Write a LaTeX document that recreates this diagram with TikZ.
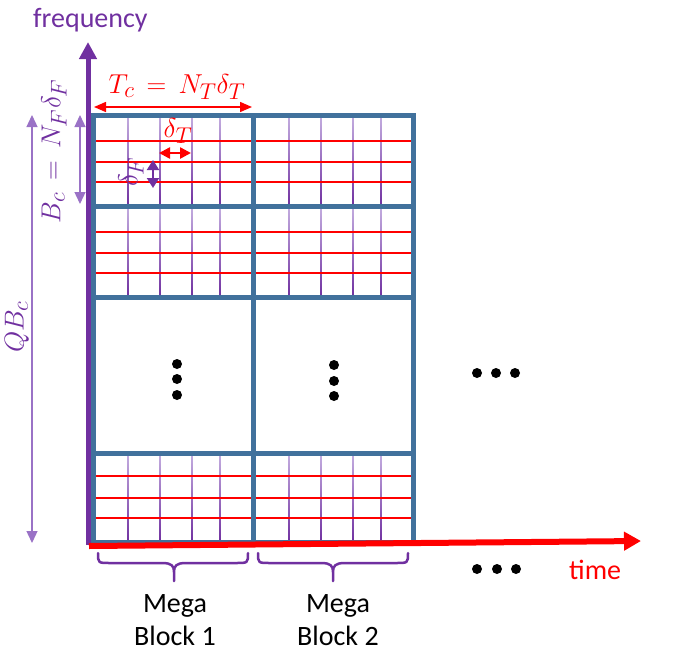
\documentclass[tikz,border=0pt]{standalone}
\usepackage{graphicx}
\usepackage[no-math]{fontspec}
\setmainfont{Carlito}
\usetikzlibrary{arrows.meta}
\definecolor{pp}{HTML}{7030A0}
\definecolor{lp}{HTML}{C4AEE0}
\definecolor{mp}{HTML}{9A72C6}
\definecolor{bl}{HTML}{41719C}
\definecolor{rd}{HTML}{FF0000}
\tikzset{
  bigfont/.style={font=\fontsize{28}{33}\selectfont},
  mathfont/.style={font=\fontsize{24.88}{30}\selectfont},
  blueline/.style={draw=bl, line width=5pt},
  redline/.style={draw=rd, line width=1.3pt},
  paxis/.style={draw=pp, line width=5pt, -{Triangle[length=17pt,width=17pt]}},
  raxis/.style={draw=rd, line width=6pt, -{Triangle[length=17pt,width=18pt]}},
  dimred/.style={draw=rd, fill=rd, line width=1.5pt, {Triangle[length=12pt,width=10pt]}-{Triangle[length=12pt,width=10pt]}},
  dimredthick/.style={draw=rd, fill=rd, line width=2.5pt, {Triangle[length=11pt,width=11pt]}-{Triangle[length=11pt,width=11pt]}},
  dimpp/.style={draw=pp, fill=pp, line width=2pt, {Triangle[length=10pt,width=12pt]}-{Triangle[length=10pt,width=12pt]}},
  dimlp/.style={draw=mp, fill=mp, line width=1.3pt, {Triangle[length=12pt,width=11pt]}-{Triangle[length=12pt,width=11pt]}},
  bracepath/.style={draw=pp, line width=2.5pt, line cap=round, line join=round},
  dotblob/.style={fill=black},
}
\newcommand{\mathbigx}[1]{\scalebox{1.1}{$#1$}}
\begin{document}
\begin{tikzpicture}[x=1pt,y=-1pt]
\useasboundingbox (0,0) rectangle (675,659);

% fine grid
\foreach \t/\b/\ra/\rb/\rc in {115/206/141/162/182, 206/297/232/253/273, 453/542/476/498/518} {
  \foreach \x in {128,160,192,220,289,321,353,381}
    \shade[top color=lp, bottom color=pp] (\x-0.7,\t) rectangle (\x+0.7,\b);
  \foreach \y in {\ra,\rb,\rc}
    \draw[redline] (93,\y) -- (413,\y);
}

% block borders
\draw[blueline] (93,115) rectangle (413,542);
\foreach \y in {206,297,453}
  \draw[blueline] (93,\y) -- (413,\y);
\draw[blueline] (253,115) -- (253,542);

% dots
\foreach \y in {364,379,395} \fill[dotblob] (177,\y) circle (5);
\foreach \y in {365,381,396} \fill[dotblob] (334,\y) circle (5);
\foreach \x in {477,496,515} \fill[dotblob] (\x,373) circle (5);
\foreach \x in {477,497,516} \fill[dotblob] (\x,569) circle (5);

% axes
\coordinate (fo) at (88,545);
\coordinate (ft) at (88,42);
\coordinate (to) at (89,546);
\coordinate (tt) at (641,541);
\draw[paxis] (fo) -- (ft);
\draw[raxis] (to) -- (tt);

\node[bigfont, text=pp, anchor=base west, inner sep=0] (freq) at (33,27) {frequency};
\node[bigfont, text=rd, anchor=base west, inner sep=0] (time) at (569,579) {time};

% dimension arrows
\coordinate (tcl) at (94,107);
\coordinate (tcr) at (252,107);
\draw[dimred] (tcl) -- (tcr);
\node[mathfont, text=rd] (tclab) at (177,87) {\mathbigx{T_c\,=\,N_T\delta_T}};

\coordinate (dtl) at (159,153);
\coordinate (dtr) at (191,153);
\draw[dimredthick] (dtl) -- (dtr);
\node[mathfont, text=rd] (dtlab) at (178,131) {\mathbigx{\delta_T}};

\coordinate (dft) at (153,160);
\coordinate (dfb) at (153,188);
\draw[dimpp] (dft) -- (dfb);
\node[mathfont, text=pp, rotate=90] (dflab) at (131,172) {\mathbigx{\delta_F}};

\coordinate (bct) at (80,115);
\coordinate (bcb) at (80,204);
\draw[dimlp] (bct) -- (bcb);
\node[mathfont, text=pp, rotate=90] (bclab) at (54,151) {\mathbigx{B_c\,=\,N_F\delta_F}};

\coordinate (qbt) at (32,115);
\coordinate (qbb) at (32,543);
\draw[dimlp] (qbt) -- (qbb);
\node[mathfont, text=pp, rotate=90] (qblab) at (17,327) {\mathbigx{QB_c}};

% braces
\draw[bracepath] (98,553) .. controls (98,563) .. (110,563) -- (162,563)
  .. controls (172,563) and (174,566) .. (174,572) -- (174,581)
  (174,572) .. controls (174,566) and (176,563) .. (186,563) -- (236,563)
  .. controls (248,563) .. (248,553);
\draw[bracepath] (258,553) .. controls (258,563) .. (270,563) -- (321,563)
  .. controls (331,563) and (333,566) .. (333,572) -- (333,581)
  (333,572) .. controls (333,566) and (335,563) .. (345,563) -- (396,563)
  .. controls (408,563) .. (408,553);

\node[bigfont, anchor=base, inner sep=0] (m1a) at (175,612) {Mega};
\node[bigfont, anchor=base, inner sep=0] (m1b) at (175,645) {Block 1};
\node[bigfont, anchor=base, inner sep=0] (m2a) at (338,612) {Mega};
\node[bigfont, anchor=base, inner sep=0] (m2b) at (338,645) {Block 2};
\end{tikzpicture}
\end{document}
